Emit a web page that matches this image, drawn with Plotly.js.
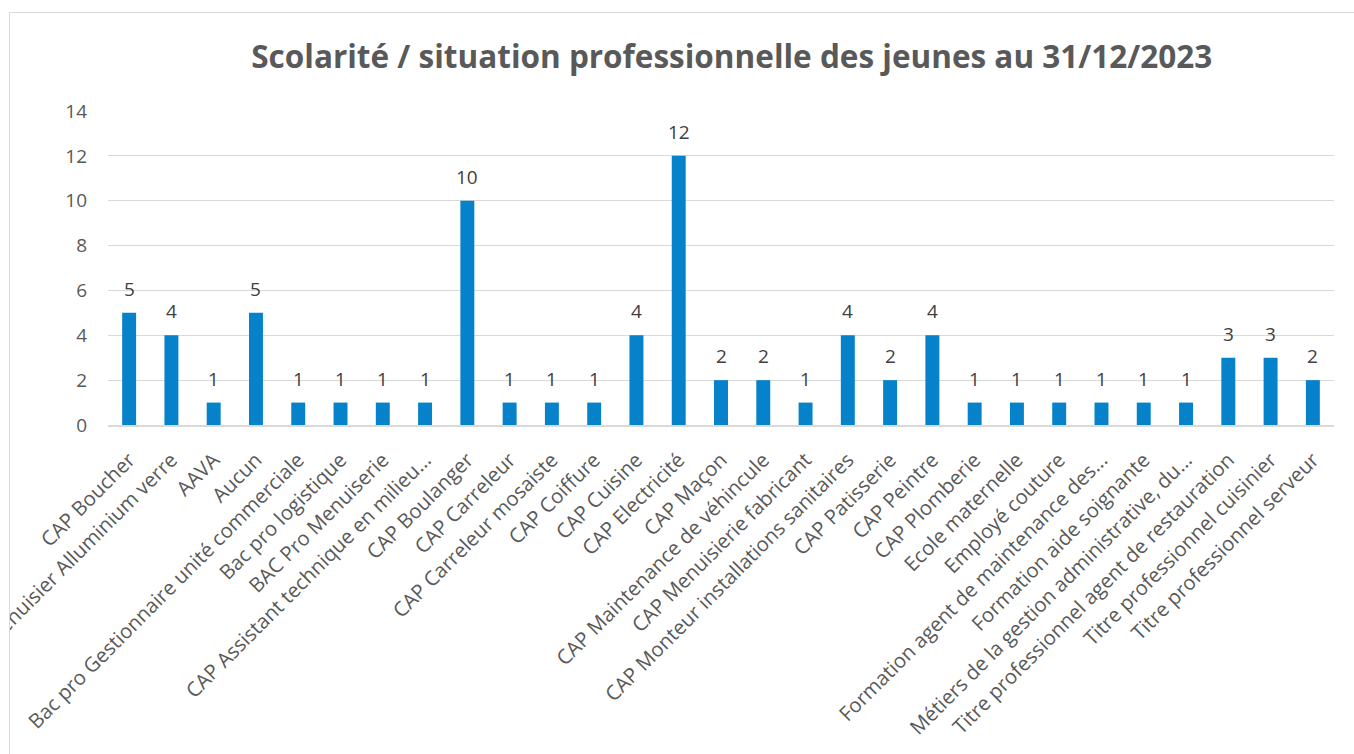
<!DOCTYPE html>
<html>
<head>
<meta charset="utf-8">
<script src="https://cdn.plot.ly/plotly-3.0.1.min.js"></script>
<style>
  html, body { margin: 0; padding: 0; background: #fff; overflow: hidden; }
  #frame { position: absolute; left: 9px; top: 12px; width: 1400px; height: 800px;
           border-left: 1.5px solid #d9d9d9; border-top: 1.5px solid #d9d9d9; overflow: hidden; }
  #chart { position: absolute; left: -10.5px; top: -13.5px; width: 1354px; height: 754px; }
</style>
</head>
<body>
<div id="frame"><div id="chart"></div></div>
<script>
const labels = [
  "CAP Boucher",
  "CAP Menuisier Alluminium verre",
  "AAVA",
  "Aucun",
  "Bac pro Gestionnaire unité commerciale",
  "Bac pro logistique",
  "BAC Pro Menuiserie",
  "CAP Assistant technique en milieu...",
  "CAP Boulanger",
  "CAP Carreleur",
  "CAP Carreleur mosaiste",
  "CAP Coiffure",
  "CAP Cuisine",
  "CAP Electricité",
  "CAP Maçon",
  "CAP Maintenance de véhincule",
  "CAP Menuisierie fabricant",
  "CAP Monteur installations sanitaires",
  "CAP Patisserie",
  "CAP Peintre",
  "CAP Plomberie",
  "Ecole maternelle",
  "Employé couture",
  "Formation agent de maintenance des...",
  "Formation aide soignante",
  "Métiers de la gestion administrative, du...",
  "Titre professionnel agent de restauration",
  "Titre professionnel cuisinier",
  "Titre professionnel serveur"
];
const counts = [5, 4, 1, 5, 1, 1, 1, 1, 10, 1, 1, 1, 4, 12, 2, 2, 1, 4, 2, 4, 1, 1, 1, 1, 1, 1, 3, 3, 2];
const yTicks = [0, 2, 4, 6, 8, 10, 12, 14];

const font = "'Open Sans', 'Noto Sans', sans-serif";

const trace = {
  type: 'bar',
  x: labels,
  y: counts,
  marker: { color: '#0582ca' },
  hoverinfo: 'x+y'
};

const valueLabels = labels.map((c, i) => ({
  x: c,
  y: counts[i],
  xref: 'x',
  yref: 'y',
  text: String(counts[i]),
  showarrow: false,
  yanchor: 'bottom',
  xanchor: 'center',
  yshift: 9,
  font: { family: font, size: 19, color: '#404040' }
}));

const layout = {
  width: 1354,
  height: 754,
  margin: { l: 108, r: 20, t: 111, b: 329 },
  paper_bgcolor: '#ffffff',
  plot_bgcolor: '#ffffff',
  bargap: 0.67,
  showlegend: false,
  annotations: valueLabels,
  title: {
    text: '<b>Scolarité / situation professionnelle des jeunes au 31/12/2023</b>',
    font: { family: font, size: 31.5, color: '#595959' },
    x: 0.5405, xanchor: 'center',
    y: 0.925, yanchor: 'middle'
  },
  xaxis: {
    type: 'category',
    tickangle: -45,
    tickfont: { family: font, size: 20.3, color: '#595959' },
    showgrid: false,
    showline: true,
    linecolor: '#d9d9d9',
    linewidth: 2,
    ticks: '',
    ticklabelstandoff: 13,
    automargin: false,
    fixedrange: true
  },
  yaxis: {
    range: [0, 14],
    tickvals: yTicks,
    ticktext: yTicks.map(String),
    tickfont: { family: font, size: 19, color: '#595959' },
    showgrid: true,
    gridcolor: '#d9d9d9',
    gridwidth: 1,
    zeroline: false,
    showline: false,
    ticks: '',
    ticklabelstandoff: 20,
    automargin: false,
    fixedrange: true
  }
};

Plotly.newPlot('chart', [trace], layout, { displayModeBar: false, staticPlot: true });
</script>
</body>
</html>
